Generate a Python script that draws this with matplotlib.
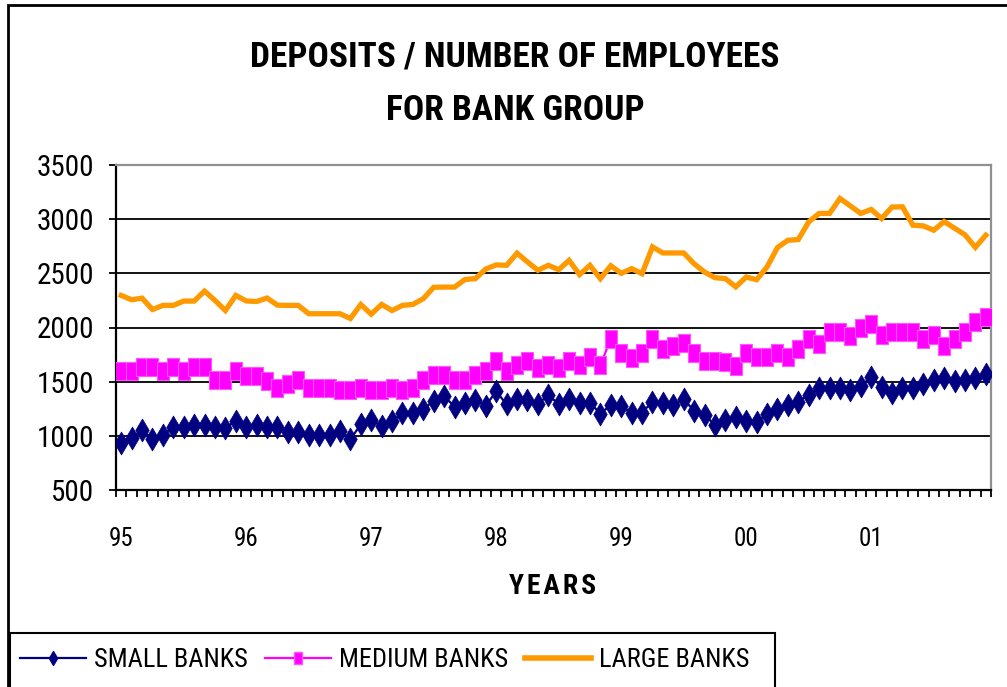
import matplotlib
matplotlib.use("Agg")
import matplotlib.pyplot as plt
from matplotlib import font_manager
from matplotlib.path import Path
from matplotlib.patches import Rectangle
from matplotlib.lines import Line2D
import numpy as np

# Monthly deposits per employee, Jan 1995 - Dec 2001
years = ["95", "96", "97", "98", "99", "00", "01"]
months_per_year = 12

small_banks = [938, 976, 1053, 973, 1007, 1084, 1084, 1102, 1102, 1084, 1070, 1140,
               1084, 1100, 1080, 1078, 1038, 1038, 1007, 1007, 1012, 1045, 968, 1105,
               1142, 1093, 1137, 1207, 1212, 1250, 1320, 1365, 1270, 1305, 1330, 1280,
               1410, 1290, 1340, 1335, 1290, 1380, 1290, 1340, 1305, 1305, 1205, 1284,
               1280, 1207, 1215, 1315, 1305, 1287, 1338, 1230, 1195, 1100, 1145, 1176,
               1140, 1125, 1205, 1245, 1284, 1315, 1380, 1440, 1445, 1442, 1420, 1460,
               1543, 1454, 1400, 1446, 1446, 1476, 1515, 1538, 1508, 1515, 1538, 1570]

medium_banks = [1597, 1597, 1637, 1637, 1597, 1637, 1597, 1637, 1637, 1520, 1520, 1597,
                1555, 1555, 1505, 1440, 1483, 1520, 1443, 1443, 1443, 1421, 1421, 1443,
                1421, 1421, 1446, 1421, 1446, 1520, 1563, 1563, 1517, 1517, 1563, 1599,
                1690, 1599, 1656, 1690, 1630, 1656, 1627, 1690, 1656, 1725, 1656, 1893,
                1767, 1722, 1767, 1893, 1799, 1831, 1857, 1767, 1690, 1690, 1683, 1643,
                1767, 1724, 1724, 1767, 1724, 1798, 1890, 1850, 1961, 1961, 1921, 1993,
                2036, 1931, 1961, 1961, 1961, 1891, 1931, 1829, 1891, 1961, 2054, 2100]

large_banks = [2296, 2256, 2271, 2166, 2204, 2204, 2244, 2244, 2336, 2250, 2157, 2296,
               2245, 2240, 2272, 2206, 2204, 2204, 2127, 2127, 2127, 2127, 2083, 2212,
               2123, 2213, 2157, 2204, 2213, 2266, 2371, 2373, 2373, 2443, 2451, 2540,
               2578, 2574, 2686, 2605, 2528, 2574, 2534, 2620, 2488, 2574, 2451, 2570,
               2500, 2543, 2497, 2744, 2688, 2688, 2688, 2588, 2512, 2460, 2451, 2375,
               2466, 2441, 2559, 2738, 2805, 2812, 2975, 3053, 3053, 3191, 3122, 3053,
               3090, 3006, 3112, 3114, 2944, 2938, 2898, 2978, 2917, 2856, 2740, 2852]

series_names = ["SMALL BANKS", "MEDIUM BANKS", "LARGE BANKS"]
y_ticks = [500, 1000, 1500, 2000, 2500, 3000, 3500]

NAVY = "#000080"
MAGENTA = "#FF00FF"
ORANGE = "#FF9900"


def pick_narrow_font():
    """Return (family, stretch, is_narrow) for the narrowest sans available."""
    candidates = [("Liberation Sans Narrow", "normal"), ("Arial Narrow", "normal"),
                  ("Roboto Condensed", "normal"), ("Open Sans Condensed", "normal"),
                  ("DejaVu Sans Condensed", "normal"), ("Noto Sans", "condensed"),
                  ("DejaVu Sans", "condensed"), ("Open Sans", "condensed")]
    for fam, stretch in candidates:
        try:
            path = font_manager.findfont(font_manager.FontProperties(family=fam, stretch=stretch),
                                         fallback_to_default=False)
        except Exception:
            continue
        name = path.lower()
        if "narrow" in name or "condensed" in name or "cond" in name:
            return fam, stretch, True
    return "Liberation Sans", "normal", False


FAMILY, STRETCH, NARROW = pick_narrow_font()
plt.rcParams["font.family"] = [FAMILY, "Liberation Sans", "DejaVu Sans"]
plt.rcParams["font.stretch"] = STRETCH
scale = 1.0 if NARROW else 0.85

W, H = 1007, 687
fig = plt.figure(figsize=(W / 100, H / 100), dpi=100)
fig.patch.set_facecolor("white")

# tall markers: diamond and upright rectangle
diamond = Path([(0, 1), (0.59, 0), (0, -1), (-0.59, 0), (0, 1)],
               [Path.MOVETO, Path.LINETO, Path.LINETO, Path.LINETO, Path.CLOSEPOLY])
tall_square = Path([(-0.66, -1), (0.66, -1), (0.66, 1), (-0.66, 1), (-0.66, -1)],
                   [Path.MOVETO, Path.LINETO, Path.LINETO, Path.LINETO, Path.CLOSEPOLY])

ax = fig.add_axes([116 / W, 1 - 490 / H, (991 - 116) / W, (490 - 165) / H])
x = np.arange(len(small_banks))

ax.plot(x, small_banks, color=NAVY, lw=1.6, marker=diamond, ms=16.5,
        mfc=NAVY, mec=NAVY, mew=0.5, zorder=3)
ax.plot(x, medium_banks, color=MAGENTA, lw=1.6, marker=tall_square, ms=13.5,
        mfc=MAGENTA, mec="#FF55FF", mew=0.8, zorder=4)
ax.plot(x, large_banks, color=ORANGE, lw=3.8, solid_joinstyle="miter", zorder=5)

ax.set_xlim(-0.5, len(small_banks) - 0.5)
ax.set_ylim(500, 3500)
ax.set_yticks(y_ticks)
ax.set_yticklabels([str(v) for v in y_ticks], fontsize=21 * scale)
ax.yaxis.grid(True, color="black", lw=1.3)
ax.set_axisbelow(True)

year_pos = np.arange(len(years)) * months_per_year
ax.set_xticks(year_pos)
ax.set_xticklabels(years, fontsize=18 * scale)
ax.set_xticks(np.arange(-0.5, len(small_banks)), minor=True)
ax.tick_params(axis="x", which="major", length=0, pad=27)
ax.tick_params(axis="x", which="minor", length=5, width=1.3, direction="out", color="black")
ax.tick_params(axis="y", length=5, width=1.3, direction="out", pad=11, color="black")

for side in ("left", "bottom"):
    ax.spines[side].set_color("black")
    ax.spines[side].set_linewidth(1.6)
for side in ("top", "right"):
    ax.spines[side].set_color("#909090")
    ax.spines[side].set_linewidth(1.6)

title_size = 25.5 if NARROW else 21
fig.text(515 / W, 1 - 57 / H, "DEPOSITS / NUMBER OF EMPLOYEES", ha="center", va="center",
         fontsize=title_size, fontweight="bold")
fig.text(515 / W, 1 - 110 / H, "FOR BANK GROUP", ha="center", va="center",
         fontsize=title_size, fontweight="bold")
fig.text(553 / W, 1 - 586 / H, "Y\u200aE\u200aA\u200aR\u200aS", ha="center", va="center",
         fontsize=20 * scale, fontweight="bold")

handles = [
    Line2D([], [], color=NAVY, lw=1.6, marker=diamond, ms=10, mfc=NAVY, mec=NAVY),
    Line2D([], [], color=MAGENTA, lw=1.6, marker=tall_square, ms=9, mfc=MAGENTA, mec="#FF55FF"),
    Line2D([], [], color=ORANGE, lw=4),
]
leg_size = 19 * scale
fig.legend(handles, series_names, loc="center left", bbox_to_anchor=(20 / W, 1 - 660 / H),
           ncol=3, frameon=False, fontsize=leg_size, handlelength=2.5,
           handletextpad=0.3, columnspacing=0.65, borderpad=0, borderaxespad=0)

fig.patches.append(Rectangle((10 / W, -0.05), (775 - 10) / W, (H - 633) / H + 0.05,
                             transform=fig.transFigure, fill=False, ec="black", lw=1.5))
fig.patches.append(Rectangle((8 / W, -0.05), 1.1, 1 - 5 / H + 0.05,
                             transform=fig.transFigure, fill=False, ec="black", lw=2))

fig.savefig("out.png", dpi=100)
